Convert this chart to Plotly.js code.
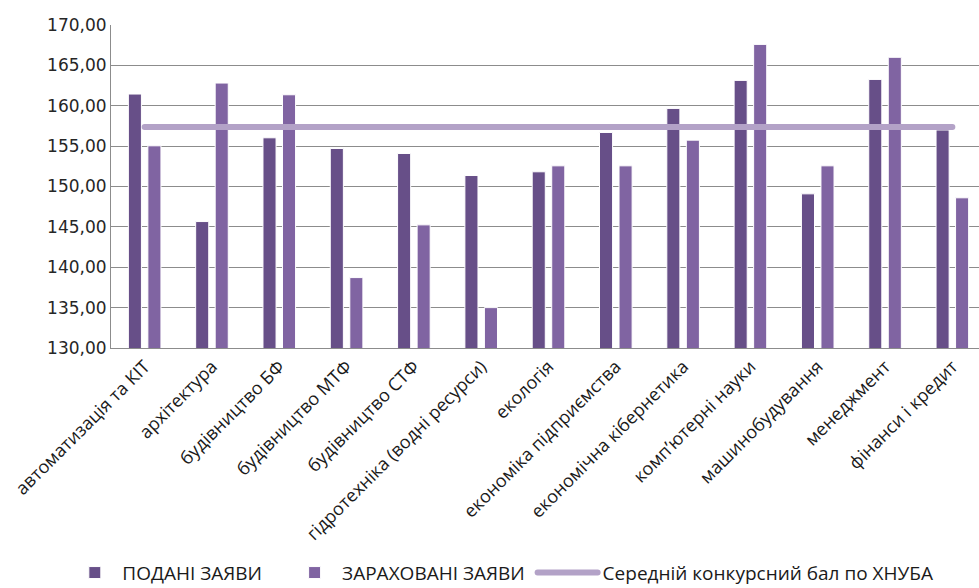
<!DOCTYPE html>
<html>
<head>
<meta charset="utf-8">
<script src="https://cdn.plot.ly/plotly-3.0.1.min.js"></script>
<style>
html,body{margin:0;padding:0;overflow:hidden;background:#fff;}
#chart{width:990px;height:588px;}
.scatterlayer .js-line, .legendlines path {stroke-linecap: round;}
</style>
</head>
<body>
<div id="chart"></div>
<script>
const categories = [
  "автоматизація та КІТ",
  "архітектура",
  "будівництво БФ",
  "будівництво МТФ",
  "будівництво СТФ",
  "гідротехніка (водні ресурси)",
  "екологія",
  "економіка підприємства",
  "економічна кібернетика",
  "комп’ютерні науки",
  "машинобудування",
  "менеджмент",
  "фінанси і кредит"
];
const submitted = [161.45, 145.66, 156.03, 154.71, 154.09, 151.36, 151.82, 156.69, 159.67, 163.14, 149.09, 163.26, 157.00];
const enrolled  = [155.04, 162.81, 161.36, 138.72, 145.25, 135.00, 152.56, 152.56, 155.74, 167.60, 152.56, 166.00, 148.60];
const averageScore = [157.36, 157.36, 157.36, 157.36, 157.36, 157.36, 157.36, 157.36, 157.36, 157.36, 157.36, 157.36, 157.36];
const seriesNames = ["ПОДАНІ ЗАЯВИ", "ЗАРАХОВАНІ ЗАЯВИ", "Середній конкурсний бал по ХНУБА"];

const traces = [
  {type:'bar', x:categories, y:submitted, name:seriesNames[0], legend:'legend',
   marker:{color:'#674f88', line:{color:'#ffffff', width:1}}},
  {type:'bar', x:categories, y:enrolled, name:seriesNames[1], legend:'legend2',
   marker:{color:'#8064a2', line:{color:'#ffffff', width:1}}},
  {type:'scatter', mode:'lines', x:categories, y:averageScore, name:seriesNames[2], legend:'legend3',
   line:{color:'#b3a2c7', width:6}}
];

const legendFont = {family:'Open Sans', size:19, color:'#1a1a1a'};
const legendBase = {orientation:'h', xref:'container', yref:'container', xanchor:'left', y:0.026, yanchor:'middle', font:legendFont};

const layout = {
  width:990, height:588,
  margin:{l:111, r:4, t:25, b:240},
  paper_bgcolor:'#ffffff', plot_bgcolor:'#ffffff',
  separators:', ',
  barmode:'group', bargap:0.42, bargroupgap:0.33,
  showlegend:true,
  legend:Object.assign({}, legendBase, {x:0.068, itemwidth:45}),
  legend2:Object.assign({}, legendBase, {x:0.290, itemwidth:45}),
  legend3:Object.assign({}, legendBase, {x:0.538, itemwidth:60}),
  xaxis:{type:'category', tickangle:-45, tickfont:{family:'Open Sans', size:18, color:'#1a1a1a'},
         showline:true, linecolor:'#8c8c8c', linewidth:1, ticks:'', showgrid:false, fixedrange:true},
  yaxis:{range:[130,170], dtick:5, tickformat:'.2f', showgrid:true, gridcolor:'#8c8c8c', gridwidth:1,
         showline:true, linecolor:'#8c8c8c', linewidth:1, zeroline:false, ticks:'',
         tickfont:{family:'DejaVu Sans', size:17, color:'#262626'}, fixedrange:true}
};
Plotly.newPlot('chart', traces, layout, {displayModeBar:false, staticPlot:true});
</script>
</body>
</html>
